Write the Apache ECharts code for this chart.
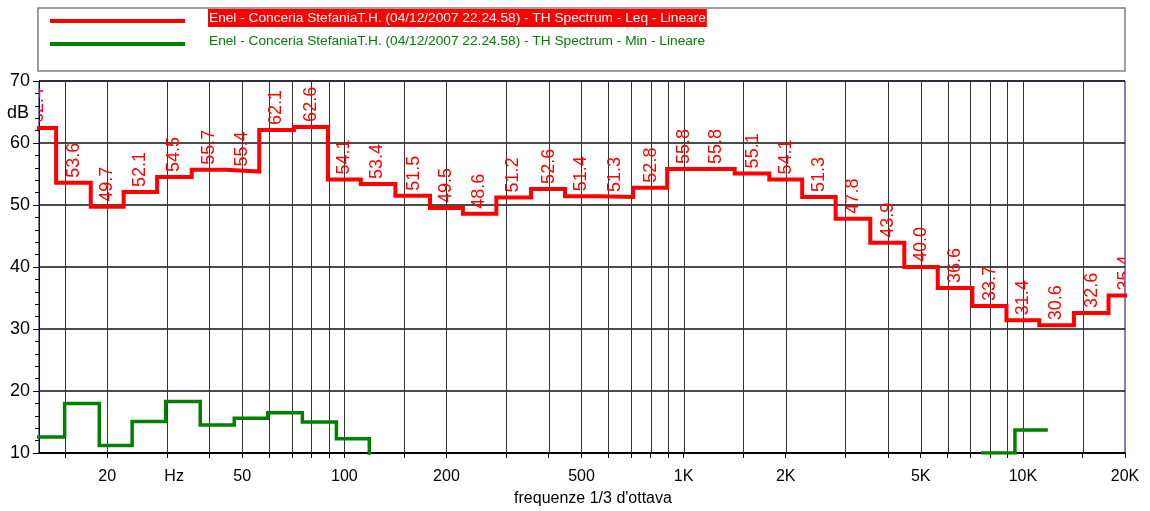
<!DOCTYPE html>
<html>
<head>
<meta charset="utf-8">
<script src="https://cdn.jsdelivr.net/npm/echarts@6/dist/echarts.min.js"></script>
<style>
html,body{margin:0;padding:0;background:#fff;}
#chart{width:1150px;height:511px;}
</style>
</head>
<body>
<div id="chart"></div>
<script>
// ---- data ----
const bandFreqs = [12.5,16,20,25,31.5,40,50,63,80,100,125,160,200,250,315,400,500,630,800,1000,1250,1600,2000,2500,3150,4000,5000,6300,8000,10000,12500,16000,20000];
const leqValues = [62.4,53.6,49.7,52.1,54.5,55.7,55.4,62.1,62.6,54.1,53.4,51.5,49.5,48.6,51.2,52.6,51.4,51.3,52.8,55.8,55.8,55.1,54.1,51.3,47.8,43.9,40.0,36.6,33.7,31.4,30.6,32.6,35.4];
const minValues = [12.6,18.0,11.2,15.1,18.3,14.5,15.6,16.5,15.0,12.3,9.0,null,null,null,null,null,null,null,null,null,null,null,null,null,null,null,null,null,10.0,13.7,null,null,null];
const gridFreqs = [15,20,30,40,50,60,70,80,90,100,150,200,300,400,500,600,700,800,900,1000,1500,2000,3000,4000,5000,6000,7000,8000,9000,10000,15000];
const tickFreqs = [15,20,30,40,50,60,70,80,90,100,150,200,300,400,500,600,700,800,900,1000,1500,2000,3000,4000,5000,6000,7000,8000,9000,10000,15000,20000];
const labelFreqs = [20,31.5,50,100,200,500,1000,2000,5000,10000,20000];
const tickLabels = ['20','Hz','50','100','200','500','1K','2K','5K','10K','20K'];
const nameLeq = 'Enel - Conceria StefaniaT.H. (04/12/2007 22.24.58) - TH Spectrum - Leq - Lineare';
const nameMin = 'Enel - Conceria StefaniaT.H. (04/12/2007 22.24.58) - TH Spectrum - Min - Lineare';
const xAxisName = "frequenze 1/3 d'ottava";
const yAxisName = 'dB';

// ---- layout / style ----
const X_MIN = 12.589, X_MAX = 20000;
const Y_MIN = 10, Y_MAX = 70, Y_STEP = 10;
const GREEN_SHIFT = Math.pow(2, 1/12);
const FONT = '"Liberation Sans", Arial, sans-serif';
const RED = '#ff0000', GREEN = '#008000';

function stepPoints(vals) {
  const n = bandFreqs.length, pts = [];
  for (let i = 0; i < n; i++) {
    const v = vals[i];
    const lo = i === 0 ? bandFreqs[0] * Math.sqrt(bandFreqs[0] / bandFreqs[1]) : Math.sqrt(bandFreqs[i-1] * bandFreqs[i]);
    const hi = i === n-1 ? bandFreqs[i] * Math.sqrt(bandFreqs[i] / bandFreqs[i-1]) : Math.sqrt(bandFreqs[i] * bandFreqs[i+1]);
    if (v == null) {
      if (pts.length && pts[pts.length-1][1] !== '-') pts.push([lo, '-']);
      continue;
    }
    pts.push([lo, v], [hi, v]);
  }
  return pts;
}

function labelFor(value) {
  let best = 0, bd = Infinity;
  labelFreqs.forEach((f, i) => { const d = Math.abs(Math.log(f) - Math.log(value)); if (d < bd) { bd = d; best = i; } });
  return tickLabels[best];
}

const chart = echarts.init(document.getElementById('chart'), null, {renderer: 'canvas'});
const option = {
  animation: false,
  backgroundColor: '#fff',
  textStyle: {fontFamily: FONT},
  grid: {left: 39, right: 25, top: 81, bottom: 58, containLabel: false, outerBoundsMode: 'none',
         show: true, borderColor: '#000080', borderWidth: 1, backgroundColor: 'transparent'},
  legend: {
    orient: 'vertical', left: 50, top: 9, itemGap: 7, padding: 0,
    itemWidth: 153, itemHeight: 10, selectedMode: false,
    icon: 'path://M0,6L135,6L135,10L0,10ZM153,0L153,10',
    itemStyle: {borderWidth: 0},
    textStyle: {fontSize: 13.7, fontFamily: FONT, padding: [2, 1, 2, 1]},
    data: [
      {name: nameLeq, textStyle: {color: '#fff', backgroundColor: RED}},
      {name: nameMin, textStyle: {color: GREEN}}
    ]
  },
  graphic: [{
    type: 'rect', z: -1, silent: true,
    shape: {x: 38, y: 8, width: 1087, height: 63},
    style: {fill: 'none', stroke: '#808080', lineWidth: 1.5}
  }],
  xAxis: [{
    type: 'log', logBase: 10, min: X_MIN, max: X_MAX,
    name: xAxisName, nameLocation: 'middle', nameGap: 38,
    nameTextStyle: {fontSize: 16, color: '#000', fontFamily: FONT, padding: [0, 0, 0, 22]},
    axisLine: {show: true, lineStyle: {color: '#000', width: 2}},
    axisTick: {show: true, length: 5, customValues: tickFreqs, lineStyle: {color: '#000'}},
    axisLabel: {show: true, customValues: labelFreqs, formatter: labelFor, fontSize: 16, color: '#000', margin: 16, fontFamily: FONT},
    splitLine: {show: false},
    minorTick: {show: false}, minorSplitLine: {show: false}
  }, {
    type: 'log', logBase: 10, min: X_MIN / GREEN_SHIFT, max: X_MAX / GREEN_SHIFT,
    show: false, splitLine: {show: false}
  }],
  yAxis: {
    type: 'value', min: Y_MIN, max: Y_MAX, interval: Y_STEP,
    name: yAxisName, nameLocation: 'end', nameGap: -32,
    nameTextStyle: {fontSize: 18, color: '#000', align: 'right', verticalAlign: 'middle', padding: [0, 10, 0, 0], fontFamily: FONT},
    axisLine: {show: true, lineStyle: {color: '#000080', width: 1}},
    axisTick: {show: true, length: 6, lineStyle: {color: '#000'}},
    minorTick: {show: true, splitNumber: 5, length: 4, lineStyle: {color: '#000'}},
    axisLabel: {fontSize: 18, color: '#000', margin: 9, fontFamily: FONT},
    splitLine: {show: true, lineStyle: {color: '#111', width: 1.5}}
  },
  series: [
    {
      type: 'custom', name: 'vgrid', xAxisIndex: 0, yAxisIndex: 0, z: 1, silent: true, clip: true,
      data: gridFreqs.map(f => [f, Y_MAX]),
      encode: {x: 0, y: 1},
      renderItem: function (params, api) {
        const top = api.coord([api.value(0), Y_MAX]);
        const bot = api.coord([api.value(0), Y_MIN]);
        const x = Math.round(top[0]) + 0.5;
        return {type: 'line', shape: {x1: x, y1: top[1], x2: x, y2: bot[1]},
                style: {stroke: '#333', lineWidth: 1}};
      }
    },
    {
      type: 'line', name: nameLeq, xAxisIndex: 0, yAxisIndex: 0, z: 4,
      data: stepPoints(leqValues), showSymbol: false, symbol: 'none', clip: true,
      color: RED, lineStyle: {color: RED, width: 4, join: 'miter', cap: 'butt'},
      emphasis: {disabled: true}
    },
    {
      type: 'line', name: nameMin, xAxisIndex: 1, yAxisIndex: 0, z: 3,
      data: stepPoints(minValues), showSymbol: false, symbol: 'none', clip: true,
      color: GREEN, lineStyle: {color: GREEN, width: 3.5, join: 'miter', cap: 'butt'},
      emphasis: {disabled: true}
    },
    {
      type: 'custom', name: 'leqLabels', xAxisIndex: 0, yAxisIndex: 0, z: 5, silent: true, clip: true,
      data: bandFreqs.map((f, i) => [f, leqValues[i]]),
      encode: {x: 0, y: 1},
      renderItem: function (params, api) {
        const p = api.coord([api.value(0), api.value(1)]);
        return {type: 'text', x: p[0], y: p[1] - 5, rotation: Math.PI / 2,
                style: {text: api.value(1).toFixed(1), fill: RED, fontSize: 18, fontFamily: FONT,
                        align: 'left', verticalAlign: 'middle'}};
      }
    }
  ]
};
chart.setOption(option);
</script>
</body>
</html>
